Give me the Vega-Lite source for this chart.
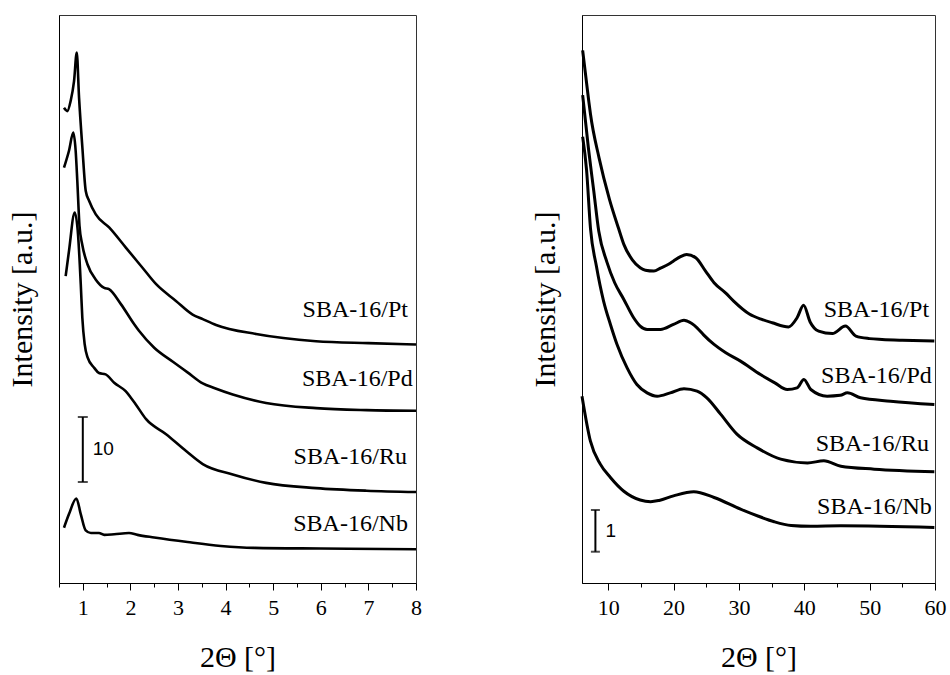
{
  "$schema": "https://vega.github.io/schema/vega-lite/v6.json",
  "background": "white",
  "padding": {"left": 6, "top": 14, "right": 2, "bottom": 2},
  "bounds": "flush",
  "spacing": 166,
  "config": {
    "font": "Liberation Serif, Times New Roman, serif",
    "view": {"stroke": "#333333", "strokeWidth": 1},
    "text": {"font": "Liberation Serif, Times New Roman, serif"},
    "axis": {
      "grid": false,
      "domainColor": "black",
      "tickColor": "black",
      "labelColor": "black",
      "titleColor": "black",
      "labelFont": "Liberation Serif, Times New Roman, serif",
      "titleFont": "Liberation Serif, Times New Roman, serif",
      "labelFontSize": 22,
      "titleFontSize": 30,
      "titleFontWeight": "normal",
      "labelFlush": false,
      "labelOverlap": false
    },
    "axisY": {"labels": false, "ticks": false, "titlePadding": 22},
    "axisX": {"labelPadding": 7, "titlePadding": 24}
  },
  "datasets": {
    "low": [
      {"sample": "SBA-16/Pt", "angle": 0.605, "intensity": 73.1},
      {"sample": "SBA-16/Pt", "angle": 0.675, "intensity": 72.6},
      {"sample": "SBA-16/Pt", "angle": 0.746, "intensity": 74.2},
      {"sample": "SBA-16/Pt", "angle": 0.816, "intensity": 77.2},
      {"sample": "SBA-16/Pt", "angle": 0.873, "intensity": 81.6},
      {"sample": "SBA-16/Pt", "angle": 0.921, "intensity": 74.7},
      {"sample": "SBA-16/Pt", "angle": 0.991, "intensity": 67.0},
      {"sample": "SBA-16/Pt", "angle": 1.062, "intensity": 60.3},
      {"sample": "SBA-16/Pt", "angle": 1.132, "intensity": 58.8},
      {"sample": "SBA-16/Pt", "angle": 1.273, "intensity": 56.7},
      {"sample": "SBA-16/Pt", "angle": 1.553, "intensity": 54.7},
      {"sample": "SBA-16/Pt", "angle": 1.904, "intensity": 51.6},
      {"sample": "SBA-16/Pt", "angle": 2.254, "intensity": 48.5},
      {"sample": "SBA-16/Pt", "angle": 2.536, "intensity": 46.0},
      {"sample": "SBA-16/Pt", "angle": 2.957, "intensity": 43.4},
      {"sample": "SBA-16/Pt", "angle": 3.307, "intensity": 41.3},
      {"sample": "SBA-16/Pt", "angle": 3.52, "intensity": 40.6},
      {"sample": "SBA-16/Pt", "angle": 3.8, "intensity": 39.7},
      {"sample": "SBA-16/Pt", "angle": 4.64, "intensity": 38.3},
      {"sample": "SBA-16/Pt", "angle": 5.9, "intensity": 37.2},
      {"sample": "SBA-16/Pt", "angle": 7.0, "intensity": 36.9},
      {"sample": "SBA-16/Pt", "angle": 8.0, "intensity": 36.7},

      {"sample": "SBA-16/Pd", "angle": 0.605, "intensity": 63.9},
      {"sample": "SBA-16/Pd", "angle": 0.71, "intensity": 66.5},
      {"sample": "SBA-16/Pd", "angle": 0.80, "intensity": 69.3},
      {"sample": "SBA-16/Pd", "angle": 0.85, "intensity": 66.5},
      {"sample": "SBA-16/Pd", "angle": 0.885, "intensity": 61.8},
      {"sample": "SBA-16/Pd", "angle": 0.93, "intensity": 55.0},
      {"sample": "SBA-16/Pd", "angle": 0.99, "intensity": 52.0},
      {"sample": "SBA-16/Pd", "angle": 1.10, "intensity": 49.0},
      {"sample": "SBA-16/Pd", "angle": 1.27, "intensity": 46.7},
      {"sample": "SBA-16/Pd", "angle": 1.45, "intensity": 45.4},
      {"sample": "SBA-16/Pd", "angle": 1.55, "intensity": 45.2},
      {"sample": "SBA-16/Pd", "angle": 1.80, "intensity": 42.9},
      {"sample": "SBA-16/Pd", "angle": 2.08, "intensity": 39.8},
      {"sample": "SBA-16/Pd", "angle": 2.18, "intensity": 38.8},
      {"sample": "SBA-16/Pd", "angle": 2.50, "intensity": 36.2},
      {"sample": "SBA-16/Pd", "angle": 2.90, "intensity": 34.0},
      {"sample": "SBA-16/Pd", "angle": 3.20, "intensity": 32.4},
      {"sample": "SBA-16/Pd", "angle": 3.52, "intensity": 30.7},
      {"sample": "SBA-16/Pd", "angle": 3.76, "intensity": 30.0},
      {"sample": "SBA-16/Pd", "angle": 4.15, "intensity": 29.0},
      {"sample": "SBA-16/Pd", "angle": 4.85, "intensity": 27.7},
      {"sample": "SBA-16/Pd", "angle": 5.90, "intensity": 26.9},
      {"sample": "SBA-16/Pd", "angle": 6.96, "intensity": 26.6},
      {"sample": "SBA-16/Pd", "angle": 8.0, "intensity": 26.5},

      {"sample": "SBA-16/Ru", "angle": 0.64, "intensity": 47.2},
      {"sample": "SBA-16/Ru", "angle": 0.71, "intensity": 51.1},
      {"sample": "SBA-16/Ru", "angle": 0.83, "intensity": 57.0},
      {"sample": "SBA-16/Ru", "angle": 0.90, "intensity": 53.6},
      {"sample": "SBA-16/Ru", "angle": 0.957, "intensity": 46.0},
      {"sample": "SBA-16/Ru", "angle": 0.99, "intensity": 40.8},
      {"sample": "SBA-16/Ru", "angle": 1.04, "intensity": 36.7},
      {"sample": "SBA-16/Ru", "angle": 1.10, "intensity": 34.7},
      {"sample": "SBA-16/Ru", "angle": 1.24, "intensity": 33.1},
      {"sample": "SBA-16/Ru", "angle": 1.34, "intensity": 32.3},
      {"sample": "SBA-16/Ru", "angle": 1.48, "intensity": 32.1},
      {"sample": "SBA-16/Ru", "angle": 1.66, "intensity": 30.8},
      {"sample": "SBA-16/Ru", "angle": 1.90, "intensity": 29.5},
      {"sample": "SBA-16/Ru", "angle": 2.01, "intensity": 28.5},
      {"sample": "SBA-16/Ru", "angle": 2.11, "intensity": 27.5},
      {"sample": "SBA-16/Ru", "angle": 2.33, "intensity": 25.2},
      {"sample": "SBA-16/Ru", "angle": 2.75, "intensity": 22.9},
      {"sample": "SBA-16/Ru", "angle": 3.17, "intensity": 20.3},
      {"sample": "SBA-16/Ru", "angle": 3.52, "intensity": 18.3},
      {"sample": "SBA-16/Ru", "angle": 4.15, "intensity": 16.7},
      {"sample": "SBA-16/Ru", "angle": 4.85, "intensity": 15.4},
      {"sample": "SBA-16/Ru", "angle": 5.90, "intensity": 14.6},
      {"sample": "SBA-16/Ru", "angle": 6.96, "intensity": 14.2},
      {"sample": "SBA-16/Ru", "angle": 8.0, "intensity": 14.0},

      {"sample": "SBA-16/Nb", "angle": 0.605, "intensity": 8.5},
      {"sample": "SBA-16/Nb", "angle": 0.71, "intensity": 10.6},
      {"sample": "SBA-16/Nb", "angle": 0.865, "intensity": 13.0},
      {"sample": "SBA-16/Nb", "angle": 0.957, "intensity": 10.6},
      {"sample": "SBA-16/Nb", "angle": 1.06, "intensity": 8.1},
      {"sample": "SBA-16/Nb", "angle": 1.17, "intensity": 7.7},
      {"sample": "SBA-16/Nb", "angle": 1.34, "intensity": 7.7},
      {"sample": "SBA-16/Nb", "angle": 1.45, "intensity": 7.4},
      {"sample": "SBA-16/Nb", "angle": 1.66, "intensity": 7.5},
      {"sample": "SBA-16/Nb", "angle": 1.97, "intensity": 7.7},
      {"sample": "SBA-16/Nb", "angle": 2.15, "intensity": 7.4},
      {"sample": "SBA-16/Nb", "angle": 2.5, "intensity": 7.0},
      {"sample": "SBA-16/Nb", "angle": 3.2, "intensity": 6.3},
      {"sample": "SBA-16/Nb", "angle": 3.9, "intensity": 5.7},
      {"sample": "SBA-16/Nb", "angle": 4.6, "intensity": 5.4},
      {"sample": "SBA-16/Nb", "angle": 6.0, "intensity": 5.3},
      {"sample": "SBA-16/Nb", "angle": 8.0, "intensity": 5.2}
    ],
    "lowLabels": [
      {"sample": "SBA-16/Pt", "angle": 7.83, "intensity": 40.9},
      {"sample": "SBA-16/Pd", "angle": 7.93, "intensity": 30.3},
      {"sample": "SBA-16/Ru", "angle": 7.81, "intensity": 18.3},
      {"sample": "SBA-16/Nb", "angle": 7.83, "intensity": 8.0}
    ],
    "lowScale": [{"angle": 1.0, "base": 15.54, "span": 10}],
    "wide": [
      {"sample": "SBA-16/Pt", "angle": 6.1, "intensity": 12.77},
      {"sample": "SBA-16/Pt", "angle": 7.0, "intensity": 11.6},
      {"sample": "SBA-16/Pt", "angle": 7.3, "intensity": 11.24},
      {"sample": "SBA-16/Pt", "angle": 8.6, "intensity": 10.2},
      {"sample": "SBA-16/Pt", "angle": 10.2, "intensity": 9.2},
      {"sample": "SBA-16/Pt", "angle": 11.6, "intensity": 8.5},
      {"sample": "SBA-16/Pt", "angle": 12.4, "intensity": 8.12},
      {"sample": "SBA-16/Pt", "angle": 13.7, "intensity": 7.75},
      {"sample": "SBA-16/Pt", "angle": 14.9, "intensity": 7.56},
      {"sample": "SBA-16/Pt", "angle": 15.7, "intensity": 7.5},
      {"sample": "SBA-16/Pt", "angle": 17.0, "intensity": 7.48},
      {"sample": "SBA-16/Pt", "angle": 18.0, "intensity": 7.55},
      {"sample": "SBA-16/Pt", "angle": 19.3, "intensity": 7.65},
      {"sample": "SBA-16/Pt", "angle": 20.0, "intensity": 7.72},
      {"sample": "SBA-16/Pt", "angle": 21.0, "intensity": 7.82},
      {"sample": "SBA-16/Pt", "angle": 22.0, "intensity": 7.88},
      {"sample": "SBA-16/Pt", "angle": 23.4, "intensity": 7.8},
      {"sample": "SBA-16/Pt", "angle": 24.9, "intensity": 7.48},
      {"sample": "SBA-16/Pt", "angle": 26.2, "intensity": 7.2},
      {"sample": "SBA-16/Pt", "angle": 28.0, "intensity": 6.95},
      {"sample": "SBA-16/Pt", "angle": 29.2, "intensity": 6.76},
      {"sample": "SBA-16/Pt", "angle": 31.6, "intensity": 6.45},
      {"sample": "SBA-16/Pt", "angle": 33.5, "intensity": 6.32},
      {"sample": "SBA-16/Pt", "angle": 35.1, "intensity": 6.24},
      {"sample": "SBA-16/Pt", "angle": 37.6, "intensity": 6.14},
      {"sample": "SBA-16/Pt", "angle": 38.9, "intensity": 6.36},
      {"sample": "SBA-16/Pt", "angle": 39.9, "intensity": 6.66},
      {"sample": "SBA-16/Pt", "angle": 40.9, "intensity": 6.26},
      {"sample": "SBA-16/Pt", "angle": 42.2, "intensity": 6.04},
      {"sample": "SBA-16/Pt", "angle": 44.3, "intensity": 5.98},
      {"sample": "SBA-16/Pt", "angle": 46.3, "intensity": 6.16},
      {"sample": "SBA-16/Pt", "angle": 47.9, "intensity": 5.92},
      {"sample": "SBA-16/Pt", "angle": 50.0, "intensity": 5.86},
      {"sample": "SBA-16/Pt", "angle": 51.9, "intensity": 5.84},
      {"sample": "SBA-16/Pt", "angle": 55.0, "intensity": 5.82},
      {"sample": "SBA-16/Pt", "angle": 59.9, "intensity": 5.8},

      {"sample": "SBA-16/Pd", "angle": 6.1, "intensity": 11.7},
      {"sample": "SBA-16/Pd", "angle": 7.0, "intensity": 10.4},
      {"sample": "SBA-16/Pd", "angle": 7.8, "intensity": 9.4},
      {"sample": "SBA-16/Pd", "angle": 8.56, "intensity": 8.44},
      {"sample": "SBA-16/Pd", "angle": 9.8, "intensity": 7.7},
      {"sample": "SBA-16/Pd", "angle": 11.0, "intensity": 7.2},
      {"sample": "SBA-16/Pd", "angle": 12.4, "intensity": 6.8},
      {"sample": "SBA-16/Pd", "angle": 13.9, "intensity": 6.36},
      {"sample": "SBA-16/Pd", "angle": 14.9, "intensity": 6.16},
      {"sample": "SBA-16/Pd", "angle": 15.96, "intensity": 6.08},
      {"sample": "SBA-16/Pd", "angle": 18.0, "intensity": 6.08},
      {"sample": "SBA-16/Pd", "angle": 20.0, "intensity": 6.2},
      {"sample": "SBA-16/Pd", "angle": 21.6, "intensity": 6.3},
      {"sample": "SBA-16/Pd", "angle": 22.1, "intensity": 6.28},
      {"sample": "SBA-16/Pd", "angle": 23.6, "intensity": 6.12},
      {"sample": "SBA-16/Pd", "angle": 24.6, "intensity": 5.95},
      {"sample": "SBA-16/Pd", "angle": 26.2, "intensity": 5.72},
      {"sample": "SBA-16/Pd", "angle": 28.0, "intensity": 5.52},
      {"sample": "SBA-16/Pd", "angle": 30.25, "intensity": 5.32},
      {"sample": "SBA-16/Pd", "angle": 33.3, "intensity": 5.0},
      {"sample": "SBA-16/Pd", "angle": 35.5, "intensity": 4.8},
      {"sample": "SBA-16/Pd", "angle": 37.4, "intensity": 4.64},
      {"sample": "SBA-16/Pd", "angle": 38.9, "intensity": 4.68},
      {"sample": "SBA-16/Pd", "angle": 39.95, "intensity": 4.88},
      {"sample": "SBA-16/Pd", "angle": 41.0, "intensity": 4.64},
      {"sample": "SBA-16/Pd", "angle": 43.5, "intensity": 4.48},
      {"sample": "SBA-16/Pd", "angle": 45.5, "intensity": 4.5},
      {"sample": "SBA-16/Pd", "angle": 46.6, "intensity": 4.56},
      {"sample": "SBA-16/Pd", "angle": 48.6, "intensity": 4.44},
      {"sample": "SBA-16/Pd", "angle": 53.2, "intensity": 4.36},
      {"sample": "SBA-16/Pd", "angle": 59.9, "intensity": 4.28},

      {"sample": "SBA-16/Ru", "angle": 6.1, "intensity": 10.7},
      {"sample": "SBA-16/Ru", "angle": 6.7, "intensity": 9.9},
      {"sample": "SBA-16/Ru", "angle": 7.3, "intensity": 8.5},
      {"sample": "SBA-16/Ru", "angle": 8.2, "intensity": 7.6},
      {"sample": "SBA-16/Ru", "angle": 9.3, "intensity": 6.76},
      {"sample": "SBA-16/Ru", "angle": 10.35, "intensity": 6.2},
      {"sample": "SBA-16/Ru", "angle": 11.36, "intensity": 5.72},
      {"sample": "SBA-16/Ru", "angle": 12.9, "intensity": 5.16},
      {"sample": "SBA-16/Ru", "angle": 14.4, "intensity": 4.76},
      {"sample": "SBA-16/Ru", "angle": 15.96, "intensity": 4.56},
      {"sample": "SBA-16/Ru", "angle": 17.5, "intensity": 4.48},
      {"sample": "SBA-16/Ru", "angle": 19.5, "intensity": 4.56},
      {"sample": "SBA-16/Ru", "angle": 21.6, "intensity": 4.66},
      {"sample": "SBA-16/Ru", "angle": 23.6, "intensity": 4.6},
      {"sample": "SBA-16/Ru", "angle": 25.1, "intensity": 4.44},
      {"sample": "SBA-16/Ru", "angle": 27.2, "intensity": 4.05},
      {"sample": "SBA-16/Ru", "angle": 29.7, "intensity": 3.57},
      {"sample": "SBA-16/Ru", "angle": 32.8, "intensity": 3.24},
      {"sample": "SBA-16/Ru", "angle": 36.4, "intensity": 2.97},
      {"sample": "SBA-16/Ru", "angle": 40.5, "intensity": 2.88},
      {"sample": "SBA-16/Ru", "angle": 43.0, "intensity": 2.93},
      {"sample": "SBA-16/Ru", "angle": 45.6, "intensity": 2.8},
      {"sample": "SBA-16/Ru", "angle": 50.7, "intensity": 2.73},
      {"sample": "SBA-16/Ru", "angle": 59.9, "intensity": 2.67},

      {"sample": "SBA-16/Nb", "angle": 6.0, "intensity": 4.48},
      {"sample": "SBA-16/Nb", "angle": 7.29, "intensity": 3.4},
      {"sample": "SBA-16/Nb", "angle": 8.8, "intensity": 2.85},
      {"sample": "SBA-16/Nb", "angle": 10.35, "intensity": 2.53},
      {"sample": "SBA-16/Nb", "angle": 12.4, "intensity": 2.2},
      {"sample": "SBA-16/Nb", "angle": 14.9, "intensity": 1.99},
      {"sample": "SBA-16/Nb", "angle": 16.5, "intensity": 1.95},
      {"sample": "SBA-16/Nb", "angle": 17.8, "intensity": 1.98},
      {"sample": "SBA-16/Nb", "angle": 20.0, "intensity": 2.09},
      {"sample": "SBA-16/Nb", "angle": 23.1, "intensity": 2.19},
      {"sample": "SBA-16/Nb", "angle": 26.2, "intensity": 2.05},
      {"sample": "SBA-16/Nb", "angle": 30.25, "intensity": 1.77},
      {"sample": "SBA-16/Nb", "angle": 33.0, "intensity": 1.6},
      {"sample": "SBA-16/Nb", "angle": 35.4, "intensity": 1.47},
      {"sample": "SBA-16/Nb", "angle": 38.0, "intensity": 1.38},
      {"sample": "SBA-16/Nb", "angle": 41.0, "intensity": 1.36},
      {"sample": "SBA-16/Nb", "angle": 45.6, "intensity": 1.37},
      {"sample": "SBA-16/Nb", "angle": 59.9, "intensity": 1.33}
    ],
    "wideLabels": [
      {"sample": "SBA-16/Pt", "angle": 59.1, "intensity": 6.38},
      {"sample": "SBA-16/Pd", "angle": 59.5, "intensity": 4.8},
      {"sample": "SBA-16/Ru", "angle": 59.1, "intensity": 3.17},
      {"sample": "SBA-16/Nb", "angle": 59.5, "intensity": 1.66}
    ],
    "wideScale": [{"angle": 8.05, "base": 0.75, "span": 1}]
  },
  "hconcat": [
    {
      "width": 357,
      "height": 568,
      "encoding": {
        "x": {
          "field": "angle",
          "type": "quantitative",
          "scale": {"domain": [0.5, 8], "nice": false, "zero": false},
          "axis": {
            "title": "2Θ [°]",
            "values": [0.5, 1, 1.5, 2, 2.5, 3, 3.5, 4, 4.5, 5, 5.5, 6, 6.5, 7, 7.5, 8],
            "labelExpr": "datum.value % 1 === 0 ? format(datum.value, 'd') : ''",
            "tickSize": {"condition": {"test": "datum.value % 1 === 0", "value": 7}, "value": 4}
          }
        },
        "y": {
          "field": "intensity",
          "type": "quantitative",
          "scale": {"domain": [0, 87.38], "nice": false, "zero": false},
          "axis": {"title": "Intensity [a.u.]"}
        }
      },
      "layer": [
        {
          "data": {"name": "low"},
          "mark": {"type": "line", "color": "black", "strokeWidth": 2.6, "interpolate": "monotone"},
          "encoding": {"detail": {"field": "sample"}}
        },
        {
          "data": {"name": "lowLabels"},
          "mark": {"type": "text", "align": "right", "baseline": "alphabetic", "fontSize": 24, "color": "black"},
          "encoding": {"text": {"field": "sample"}}
        },
        {
          "data": {"name": "lowScale"},
          "transform": [
            {"calculate": "datum.base + datum.span", "as": "top"},
            {"calculate": "datum.base + datum.span / 2", "as": "middle"}
          ],
          "layer": [
            {
              "mark": {"type": "rule", "color": "black", "strokeWidth": 2},
              "encoding": {"y": {"field": "base"}, "y2": {"field": "top"}}
            },
            {
              "mark": {"type": "tick", "orient": "horizontal", "color": "black", "size": 10, "thickness": 2},
              "encoding": {"y": {"field": "base"}}
            },
            {
              "mark": {"type": "tick", "orient": "horizontal", "color": "black", "size": 10, "thickness": 2},
              "encoding": {"y": {"field": "top"}}
            },
            {
              "mark": {"type": "text", "align": "left", "baseline": "middle", "dx": 10, "fontSize": 19, "font": "Liberation Sans, Arial, sans-serif", "color": "black"},
              "encoding": {"y": {"field": "middle"}, "text": {"field": "span"}}
            }
          ]
        }
      ]
    },
    {
      "width": 353,
      "height": 568,
      "encoding": {
        "x": {
          "field": "angle",
          "type": "quantitative",
          "scale": {"domain": [6, 60], "nice": false, "zero": false},
          "axis": {
            "title": "2Θ [°]",
            "values": [10, 15, 20, 25, 30, 35, 40, 45, 50, 55, 60],
            "labelExpr": "datum.value % 10 === 0 ? format(datum.value, 'd') : ''",
            "tickSize": {"condition": {"test": "datum.value % 10 === 0", "value": 7}, "value": 4}
          }
        },
        "y": {
          "field": "intensity",
          "type": "quantitative",
          "scale": {"domain": [0, 13.62], "nice": false, "zero": false},
          "axis": {"title": "Intensity [a.u.]"}
        }
      },
      "layer": [
        {
          "data": {"name": "wide"},
          "mark": {"type": "line", "color": "black", "strokeWidth": 3, "interpolate": "monotone"},
          "encoding": {"detail": {"field": "sample"}}
        },
        {
          "data": {"name": "wideLabels"},
          "mark": {"type": "text", "align": "right", "baseline": "alphabetic", "fontSize": 24, "color": "black"},
          "encoding": {"text": {"field": "sample"}}
        },
        {
          "data": {"name": "wideScale"},
          "transform": [
            {"calculate": "datum.base + datum.span", "as": "top"},
            {"calculate": "datum.base + datum.span / 2", "as": "middle"}
          ],
          "layer": [
            {
              "mark": {"type": "rule", "color": "black", "strokeWidth": 2},
              "encoding": {"y": {"field": "base"}, "y2": {"field": "top"}}
            },
            {
              "mark": {"type": "tick", "orient": "horizontal", "color": "black", "size": 9, "thickness": 2},
              "encoding": {"y": {"field": "base"}}
            },
            {
              "mark": {"type": "tick", "orient": "horizontal", "color": "black", "size": 9, "thickness": 2},
              "encoding": {"y": {"field": "top"}}
            },
            {
              "mark": {"type": "text", "align": "left", "baseline": "middle", "dx": 10, "fontSize": 19, "font": "Liberation Sans, Arial, sans-serif", "color": "black"},
              "encoding": {"y": {"field": "middle"}, "text": {"field": "span"}}
            }
          ]
        }
      ]
    }
  ]
}
